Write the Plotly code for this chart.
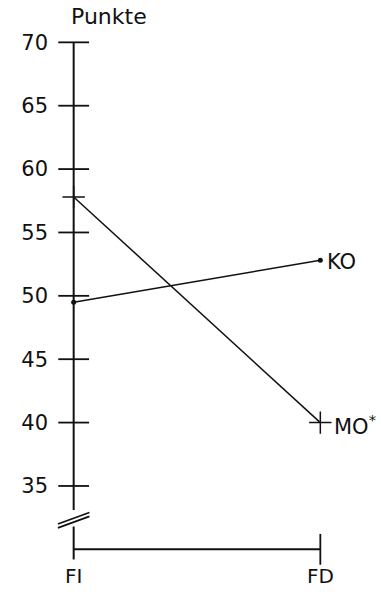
import plotly.graph_objects as go

categories = ["FI", "FD"]
ko_values = [49.5, 52.8]
mo_values = [57.8, 40.0]
series_names = ["KO", "MO<sup>*</sup>"]
y_ticks = [35, 40, 45, 50, 55, 60, 65, 70]
y_axis_title = "Punkte"
axis_base = 30          # value where the x-axis sits (axis is broken below 35)
break_top, break_bottom, axis_end = 33.1, 31.8, 29.2
break_marks = [32.45, 32.15]

FONT = "DejaVu Sans"
BLACK = "#111111"

fig = go.Figure()

# y axis (upper part, down to the break)
fig.add_trace(go.Scatter(x=[categories[0]] * 2, y=[max(y_ticks), break_top], mode="lines",
                         line=dict(color=BLACK, width=2), hoverinfo="skip", showlegend=False))
# y axis (lower part, below the break)
fig.add_trace(go.Scatter(x=[categories[0]] * 2, y=[break_bottom, axis_end], mode="lines",
                         line=dict(color=BLACK, width=2), hoverinfo="skip", showlegend=False))
# break marks
fig.add_trace(go.Scatter(x=[categories[0]] * len(break_marks), y=break_marks, mode="markers",
                         marker=dict(symbol="line-ew", size=24, angle=-20,
                                     line=dict(color=BLACK, width=1.8)),
                         cliponaxis=False, hoverinfo="skip", showlegend=False))
# cross ticks on the y axis
fig.add_trace(go.Scatter(x=[categories[0]] * len(y_ticks), y=y_ticks, mode="markers",
                         marker=dict(symbol="line-ew", size=22, line=dict(color=BLACK, width=1.8)),
                         cliponaxis=False, hoverinfo="skip", showlegend=False))
# x axis baseline
fig.add_trace(go.Scatter(x=categories, y=[axis_base] * len(categories), mode="lines",
                         line=dict(color=BLACK, width=2), hoverinfo="skip", showlegend=False))
# end tick at FD
fig.add_trace(go.Scatter(x=[categories[-1]], y=[axis_base], mode="markers",
                         marker=dict(symbol="line-ns", size=22, line=dict(color=BLACK, width=1.8)),
                         cliponaxis=False, hoverinfo="skip", showlegend=False))

# KO series
fig.add_trace(go.Scatter(x=categories, y=ko_values, mode="lines+markers",
                         line=dict(color=BLACK, width=1.5),
                         marker=dict(symbol="circle", size=5, color=BLACK),
                         cliponaxis=False, showlegend=False))
# MO series
fig.add_trace(go.Scatter(x=categories, y=mo_values, mode="lines+markers",
                         line=dict(color=BLACK, width=1.5),
                         marker=dict(symbol="cross-thin-open", size=16,
                                     line=dict(color=BLACK, width=1.5)),
                         cliponaxis=False, showlegend=False))

# series labels at the right end
for name, vals, dx in [(series_names[0], ko_values, 5), (series_names[1], mo_values, 12)]:
    fig.add_annotation(x=categories[-1], y=vals[-1], xref="x", yref="y", text=name,
                       showarrow=False, xanchor="left", yanchor="middle", xshift=dx, yshift=-2,
                       font=dict(family=FONT, size=21, color=BLACK))

fig.add_annotation(x=categories[0], y=max(y_ticks), xref="x", yref="y", text=y_axis_title,
                   showarrow=False, xanchor="left", yanchor="bottom", yshift=11, xshift=-5,
                   font=dict(family=FONT, size=22, color=BLACK))

fig.update_layout(
    width=381, height=598,
    margin=dict(l=49, r=36, t=36, b=36),
    paper_bgcolor="white", plot_bgcolor="white",
    xaxis=dict(type="category", range=[-0.1, 1.1], tickvals=categories, ticktext=categories,
               showgrid=False, zeroline=False, showline=False, automargin=False,
               ticks="", tickfont=dict(family=FONT, size=20, color=BLACK)),
    yaxis=dict(range=[29, 70.5], tickvals=y_ticks, showgrid=False, zeroline=False, showline=False,
               automargin=False, ticks="", tickfont=dict(family=FONT, size=21, color=BLACK)),
)

fig.write_html("out.html")
